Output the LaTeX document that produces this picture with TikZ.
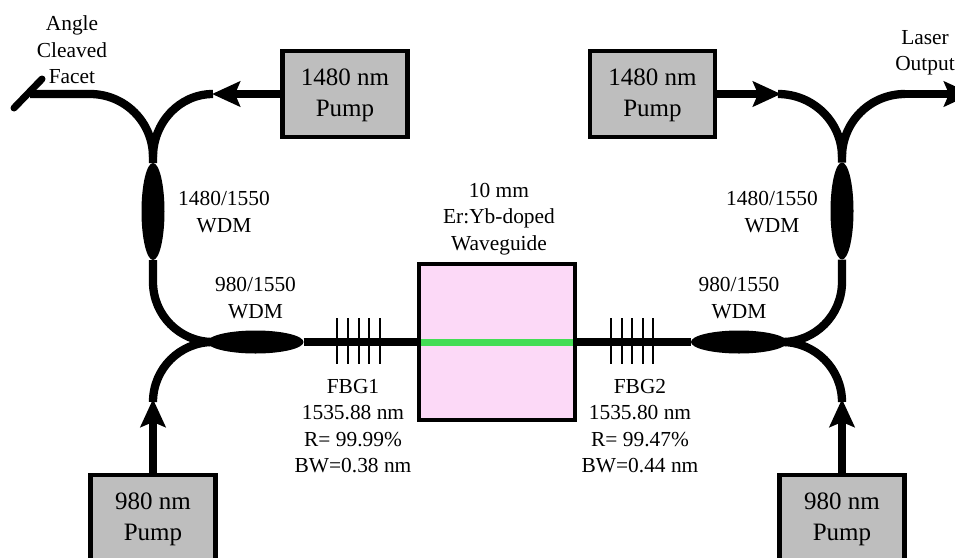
\documentclass[tikz,border=0pt]{standalone}
\usepackage{fontspec}
\setmainfont{Liberation Serif}
\usepackage{xcolor}
\usetikzlibrary{calc}
\usetikzlibrary{arrows.meta}
\usetikzlibrary{shapes.geometric}
\definecolor{pumpgray}{HTML}{BEBEBE}
\definecolor{chippink}{HTML}{FCD9F7}
\definecolor{coregreen}{HTML}{44DD55}
\tikzset{
	fiber/.style={line width=8.3pt},
	feed/.style={fiber,-{Stealth[length=28pt,width=25pt,inset=5pt]}},
	grating/.style={line width=2pt},
	facet/.style={line width=7pt,line cap=round},
	core/.style={line width=7pt,coregreen,shorten >=4pt,shorten <=4pt},
	pump/.style={rectangle,draw,fill=pumpgray,line width=4.5pt,minimum width=125pt,minimum height=86pt,align=center,text depth=2.4pt,font=\fontsize{25}{31}\selectfont},
	chip/.style={rectangle,draw,fill=chippink,line width=4pt,minimum width=156pt,minimum height=156pt},
	wdm/.style={ellipse,fill=black,inner sep=0pt,outer sep=0pt},
	caption/.style={align=center,inner sep=0pt,font=\fontsize{21.4}{26.5}\selectfont}
}
\begin{document}
\begin{tikzpicture}[x=1pt,y=-1pt]
\useasboundingbox (0,0) rectangle (955,557);
\clip (0,0) rectangle (955,557);
%pumps and chip
\node[pump] (PTL) at (345,94) {1480 nm\\Pump};
\node[pump] (PTR) at (652.5,94) {1480 nm\\Pump};
\node[pump] (PBL) at (153,518) {980 nm\\Pump};
\node[pump] (PBR) at (842,518) {980 nm\\Pump};
\node[chip] (W) at (497,342) {};
%couplers
\node[wdm,minimum width=23pt,minimum height=97pt] (TL) at (153,211.5) {};
\node[wdm,minimum width=23pt,minimum height=97pt] (TR) at (842,211) {};
\node[wdm,minimum width=96pt,minimum height=23pt] (BL) at (255.5,342) {};
\node[wdm,minimum width=96pt,minimum height=23pt] (BR) at (739,342) {};
%
\coordinate (f0) at (30,94);
\coordinate (f1) at (90,94);
\coordinate (a1) at (212,94);
\coordinate (a2) at (213,94);
\coordinate (t1) at (153,157);
\coordinate (b1) at (153,282);
\coordinate (b2) at (153,402);
\coordinate (a3) at (153,399);
\coordinate (j1) at (213,342);
\coordinate (a4) at (781,94);
\coordinate (a5) at (778,94);
\coordinate (o1) at (905,94);
\coordinate (o2) at (972,94);
\coordinate (t2) at (842,157);
\coordinate (b3) at (842,282);
\coordinate (b4) at (842,402);
\coordinate (a6) at (842,399);
\coordinate (j2) at (782,342);
\coordinate (c1) at (14,108);
\coordinate (c2) at (42,79);
%
\draw[facet] (c1) to (c2);
\draw[fiber] (f0) to (f1) to[out=0,in=90] (t1) to (TL.north);
\draw[fiber] (a2) to[out=180,in=90] (t1);
\draw[feed] (PTL) to (a1);
\draw[fiber] (TL.south) to (b1) to[out=-90,in=180] (j1);
\draw[fiber] (b2) to[out=90,in=180] (j1);
\draw[feed] (PBL) to (a3);
\draw[fiber] (BL.east) to (W);
%
\draw[feed] (PTR) to (a4);
\draw[fiber] (a5) to[out=0,in=90] (t2) to (TR.north);
\draw[fiber] (o1) to[out=180,in=90] (t2);
\draw[feed] (o1) to (o2);
\draw[fiber] (TR.south) to (b3) to[out=-90,in=0] (j2);
\draw[fiber] (b4) to[out=90,in=0] (j2);
\draw[feed] (PBR) to (a6);
\draw[fiber] (W) to (BR.west);
\draw[core] (W.west) to (W.east);
%gratings
\draw[grating] (337,318) to (337,364);
\draw[grating] (348,318) to (348,364);
\draw[grating] (358.5,318) to (358.5,364);
\draw[grating] (369,318) to (369,364);
\draw[grating] (379.5,318) to (379.5,364);
\draw[grating] (611,318) to (611,364);
\draw[grating] (621.5,318) to (621.5,364);
\draw[grating] (632,318) to (632,364);
\draw[grating] (642.5,318) to (642.5,364);
\draw[grating] (653,318) to (653,364);
%labels
\node[caption] (l1) at (72,50) {Angle\\Cleaved\\Facet};
\node[caption] (l2) at (224,212) {1480/1550\\WDM};
\node[caption] (l3) at (255.5,298) {980/1550\\WDM};
\node[caption] (l4) at (353,426) {FBG1\\1535.88 nm\\R= 99.99\%\\BW=0.38 nm};
\node[caption] (l5) at (499,219) {10 mm\\Er:Yb-doped\\Waveguide};
\node[caption] (l6) at (640,426) {FBG2\\1535.80 nm\\R= 99.47\%\\BW=0.44 nm};
\node[caption] (l7) at (772,212) {1480/1550\\WDM};
\node[caption] (l8) at (739,298) {980/1550\\WDM};
\node[caption] (l9) at (925,53) {Laser\\Output};
\end{tikzpicture}
\end{document}
